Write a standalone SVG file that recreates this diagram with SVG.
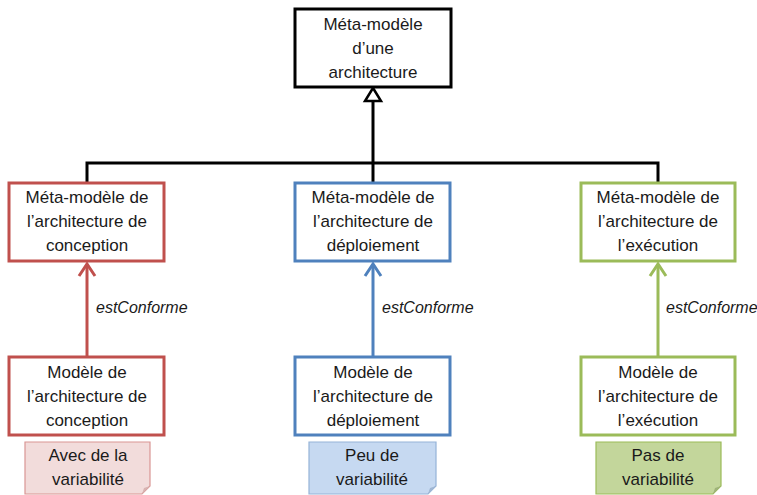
<svg xmlns="http://www.w3.org/2000/svg" width="757" height="495" viewBox="0 0 757 495">
<style>
text{font-family:"Liberation Sans",Arial,sans-serif;font-size:17px;fill:#1a1a1a;text-anchor:middle}
.lbl{font-style:italic;font-size:16px;text-anchor:start}
.box{fill:#fff;stroke-width:3}
.red{stroke:#c0504d}.blue{stroke:#4f81bd}.green{stroke:#9bbb59}
.note{stroke-width:1.2}
</style>
<rect width="757" height="495" fill="#fff"/>
<g id="connectors">
<polyline points="87,183 87,163 658,163 658,183" fill="none" stroke="#000" stroke-width="3"/>
<line x1="373" y1="183" x2="373" y2="100" stroke="#000" stroke-width="3"/>
<path d="M373,88 L381,101 L365,101 Z" fill="#fff" stroke="#000" stroke-width="2.5" stroke-linejoin="miter"/>
<g fill="none" stroke-width="3">
<line x1="87" y1="357" x2="87" y2="264" stroke="#c0504d"/>
<polyline points="79,276 87,264 95,276" stroke="#c0504d"/>
<line x1="373" y1="357" x2="373" y2="264" stroke="#4f81bd"/>
<polyline points="365,276 373,264 381,276" stroke="#4f81bd"/>
<line x1="658" y1="357" x2="658" y2="264" stroke="#9bbb59"/>
<polyline points="650,276 658,264 666,276" stroke="#9bbb59"/>
</g>
<text class="lbl" x="96" y="313">estConforme</text>
<text class="lbl" x="382" y="313">estConforme</text>
<text class="lbl" x="666" y="313">estConforme</text>
</g>
<g id="top">
<rect x="295" y="9" width="156" height="78" fill="#fff" stroke="#000" stroke-width="3"/>
<text x="373" y="30">Méta-modèle</text>
<text x="373" y="54">d’une</text>
<text x="373" y="78">architecture</text>
</g>
<g id="mm-conception">
<rect class="box red" x="9" y="183" width="155" height="78"/>
<text x="87" y="203">Méta-modèle de</text>
<text x="87" y="227">l’architecture de</text>
<text x="87" y="251">conception</text>
</g>
<g id="mm-deploiement">
<rect class="box blue" x="295" y="183" width="155" height="78"/>
<text x="373" y="203">Méta-modèle de</text>
<text x="373" y="227">l’architecture de</text>
<text x="373" y="251">déploiement</text>
</g>
<g id="mm-execution">
<rect class="box green" x="581" y="183" width="154" height="78"/>
<text x="658" y="203">Méta-modèle de</text>
<text x="658" y="227">l’architecture de</text>
<text x="658" y="251">l’exécution</text>
</g>
<g id="m-conception">
<rect class="box red" x="9" y="357" width="155" height="78"/>
<text x="87" y="378">Modèle de</text>
<text x="87" y="402">l’architecture de</text>
<text x="87" y="426">conception</text>
</g>
<g id="m-deploiement">
<rect class="box blue" x="295" y="357" width="155" height="78"/>
<text x="373" y="378">Modèle de</text>
<text x="373" y="402">l’architecture de</text>
<text x="373" y="426">déploiement</text>
</g>
<g id="m-execution">
<rect class="box green" x="581" y="357" width="154" height="78"/>
<text x="658" y="378">Modèle de</text>
<text x="658" y="402">l’architecture de</text>
<text x="658" y="426">l’exécution</text>
</g>
<g id="note-red">
<path class="note" d="M25,442 H150 V486 L142,494 H25 Z" fill="#f2dcdb" stroke="#d99694"/>
<path d="M142,494 L144,488 L150,486 Z" fill="#d8b3b2"/>
<text x="88" y="461">Avec de la</text>
<text x="88" y="485">variabilité</text>
</g>
<g id="note-blue">
<path class="note" d="M309,442 H436 V486 L428,494 H309 Z" fill="#c6d9f1" stroke="#95b3d7"/>
<path d="M428,494 L430,488 L436,486 Z" fill="#9fb6d3"/>
<text x="372" y="461">Peu de</text>
<text x="372" y="485">variabilité</text>
</g>
<g id="note-green">
<path class="note" d="M596,442 H721 V486 L713,494 H596 Z" fill="#c3d69b" stroke="#9bbb59"/>
<path d="M713,494 L715,488 L721,486 Z" fill="#9fb37a"/>
<text x="658" y="461">Pas de</text>
<text x="658" y="485">variabilité</text>
</g>
</svg>
